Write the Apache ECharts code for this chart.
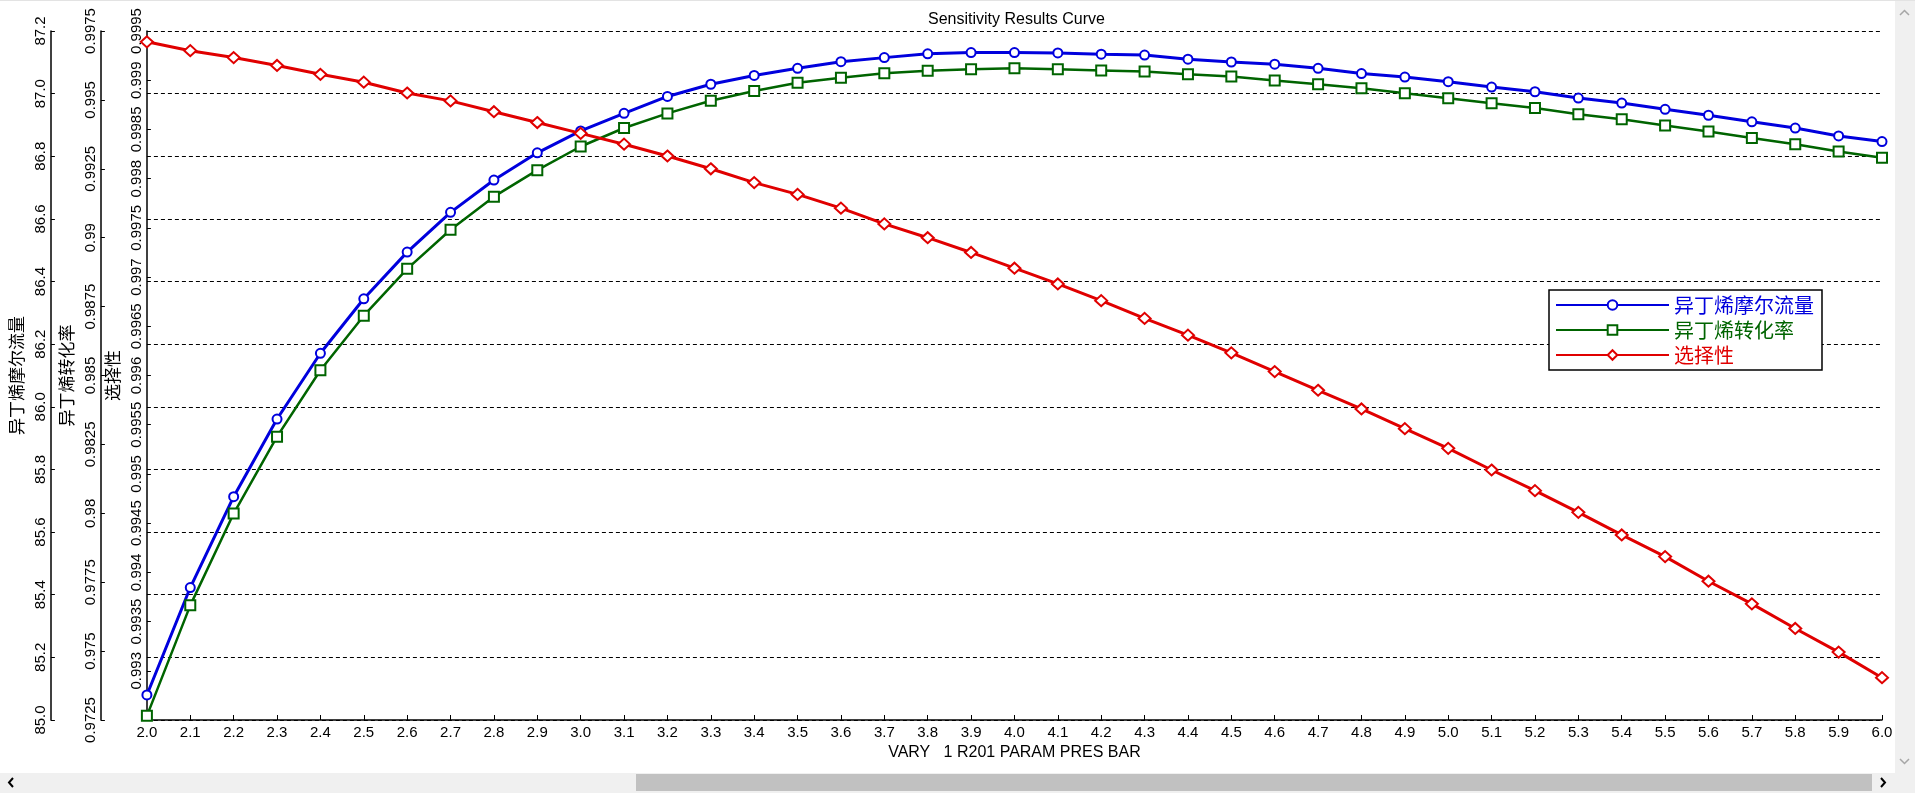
<!DOCTYPE html>
<html>
<head>
<meta charset="utf-8">
<script src="https://cdn.jsdelivr.net/npm/echarts@6/dist/echarts.min.js"></script>
<style>
html,body{margin:0;padding:0;background:#fff;}
#chart{width:1915px;height:793px;}
</style>
</head>
<body>
<div id="chart"></div>
<script>
// ---- data ----
const pressures = ['2.0','2.1','2.2','2.3','2.4','2.5','2.6','2.7','2.8','2.9',
  '3.0','3.1','3.2','3.3','3.4','3.5','3.6','3.7','3.8','3.9',
  '4.0','4.1','4.2','4.3','4.4','4.5','4.6','4.7','4.8','4.9',
  '5.0','5.1','5.2','5.3','5.4','5.5','5.6','5.7','5.8','5.9','6.0'];

const molarFlow = [85.080, 85.423, 85.713, 85.961, 86.171, 86.345, 86.494, 86.621, 86.724, 86.811,
  86.881, 86.937, 86.991, 87.030, 87.058, 87.081, 87.102, 87.115, 87.127, 87.131,
  87.131, 87.130, 87.126, 87.123, 87.110, 87.101, 87.094, 87.081, 87.064, 87.053,
  87.038, 87.021, 87.006, 86.986, 86.970, 86.950, 86.931, 86.910, 86.890, 86.865, 86.847];

const conversion = [0.97265, 0.97666, 0.97999, 0.98278, 0.98519, 0.98717, 0.98887, 0.99029, 0.99149, 0.99245,
  0.99331, 0.99398, 0.99451, 0.99497, 0.99532, 0.99562, 0.99580, 0.99597, 0.99606, 0.99611,
  0.99615, 0.99611, 0.99607, 0.99603, 0.99593, 0.99585, 0.99570, 0.99557, 0.99542, 0.99524,
  0.99506, 0.99488, 0.99471, 0.99448, 0.99430, 0.99407, 0.99385, 0.99362, 0.99339, 0.99313, 0.99290];

const selectivity = [0.99939, 0.99930, 0.99923, 0.99915, 0.99906, 0.99898, 0.99887, 0.99879, 0.99868, 0.99857,
  0.99846, 0.99835, 0.99823, 0.99810, 0.99796, 0.99784, 0.99770, 0.99754, 0.99740, 0.99725,
  0.99709, 0.99693, 0.99676, 0.99658, 0.99641, 0.99623, 0.99604, 0.99585, 0.99566, 0.99546,
  0.99526, 0.99504, 0.99483, 0.99461, 0.99438, 0.99416, 0.99391, 0.99368, 0.99343, 0.99319, 0.99293];

// tick labels (bottom to top)
const flowTicks = ['85.0','85.2','85.4','85.6','85.8','86.0','86.2','86.4','86.6','86.8','87.0','87.2'];
const convTicks = ['0.9725','0.975','0.9775','0.98','0.9825','0.985','0.9875','0.99','0.9925','0.995','0.9975'];
const selTicks = ['','0.993','0.9935','0.994','0.9945','0.995','0.9955','0.996','0.9965','0.997','0.9975','0.998','0.9985','0.999','0.9995'];

const names = ['异丁烯摩尔流量','异丁烯转化率','选择性'];
const colors = ['#0000dd','#006400','#e00000'];

// ---- chart ----
const chart = echarts.init(document.getElementById('chart'), null, {renderer:'canvas'});
const LAT = "'Liberation Sans', Arial, sans-serif";
const CJK = "'Noto Sans CJK SC', sans-serif";

function tickFmt(arr, min, step){
  return function(v){
    const i = Math.round((v - min)/step);
    return arr[i] !== undefined ? arr[i] : '';
  };
}

function yAxisDef(name, min, max, step, arr, offset, gap, showSplit, nameSize){
  return {
    type:'value', position:'left', offset:offset,
    min:min, max:max, interval:step,
    name:name, nameLocation:'middle', nameRotate:90, nameGap:gap,
    nameTextStyle:{color:'#000', fontSize:nameSize, fontFamily:CJK},
    axisLine:{show:true, lineStyle:{color:'#000', width:1.5}},
    axisTick:{show:true, inside:true, length:4, lineStyle:{color:'#000', width:1}},
    axisLabel:{show:true, rotate:90, margin:3, color:'#000', fontSize:15, fontFamily:LAT,
      formatter: tickFmt(arr, min, step)},
    splitLine:{show:showSplit, lineStyle:{color:'#000', width:1, type:[4,3]}}
  };
}

const option = {
  backgroundColor:'#fff',
  animation:false,
  title:{
    text:'Sensitivity Results Curve', left:923, top:7,
    textStyle:{color:'#000', fontSize:16, fontWeight:'normal', fontFamily:LAT}
  },
  grid:{left:146, right:33, top:31, bottom:73, containLabel:false},
  legend:{
    orient:'vertical', left:1549, top:290,
    padding:[5,8,5,6], itemGap:5, itemWidth:113, itemHeight:12,
    borderColor:'#000', borderWidth:1.5, backgroundColor:'#fff',
    textStyle:{fontSize:20, fontFamily:CJK},
    data: names.map((n,i)=>({name:n, textStyle:{color:colors[i]}}))
  },
  xAxis:{
    type:'category', data:pressures, boundaryGap:false,
    name:'VARY   1 R201 PARAM PRES BAR', nameLocation:'middle', nameGap:18,
    nameTextStyle:{color:'#000', fontSize:16, fontFamily:LAT},
    axisLine:{show:true, lineStyle:{color:'#000', width:1.5}},
    axisTick:{show:true, inside:true, length:5, interval:0, lineStyle:{color:'#000'}},
    axisLabel:{show:true, interval:0, margin:5, color:'#000', fontSize:15, fontFamily:LAT},
    splitLine:{show:false}
  },
  yAxis:[
    yAxisDef(names[0], 85.0, 87.2, 0.2, flowTicks, 96, 18, true, 17),
    yAxisDef(names[1], 0.9725, 0.9975, 0.0025, convTicks, 46, 22, false, 17),
    yAxisDef(names[2], 0.9925, 0.9995, 0.0005, selTicks, 0, 16, false, 17)
  ],
  series:[
    {name:names[0], type:'line', yAxisIndex:0, data:molarFlow, color:colors[0],
     symbol:'emptyCircle', symbolSize:9, showAllSymbol:true,
     lineStyle:{width:3, color:colors[0]}, itemStyle:{borderWidth:1.5, color:colors[0]}},
    {name:names[1], type:'line', yAxisIndex:1, data:conversion, color:colors[1],
     symbol:'emptyRect', symbolSize:10, showAllSymbol:true,
     lineStyle:{width:2.5, color:colors[1]}, itemStyle:{borderWidth:1.5, color:colors[1]}},
    {name:names[2], type:'line', yAxisIndex:2, data:selectivity, color:colors[2],
     symbol:'emptyDiamond', symbolSize:[12,11], showAllSymbol:true,
     lineStyle:{width:3, color:colors[2]}, itemStyle:{borderWidth:1.2, color:colors[2]}}
  ],
  graphic:[
    {type:'rect', silent:true, z:100, shape:{x:0,y:0,width:1915,height:1}, style:{fill:'#e3e3e3'}},
    {type:'rect', silent:true, z:100, shape:{x:1895,y:1,width:20,height:772}, style:{fill:'#f0f0f0'}},
    {type:'rect', silent:true, z:100, shape:{x:0,y:773,width:1915,height:20}, style:{fill:'#f0f0f0'}},
    {type:'rect', silent:true, z:101, shape:{x:636,y:774,width:1236,height:17}, style:{fill:'#c1c1c1'}},
    {type:'polyline', silent:true, z:102, shape:{points:[[13,778],[9,782.5],[13,787]]}, style:{stroke:'#000', lineWidth:2, fill:null}},
    {type:'polyline', silent:true, z:102, shape:{points:[[1881,778],[1885,782.5],[1881,787]]}, style:{stroke:'#000', lineWidth:2, fill:null}},
    {type:'polyline', silent:true, z:102, shape:{points:[[1900,15],[1904.5,10.5],[1909,15]]}, style:{stroke:'#a6a6a6', lineWidth:1.5, fill:null}},
    {type:'polyline', silent:true, z:102, shape:{points:[[1900,759],[1904.5,763.5],[1909,759]]}, style:{stroke:'#a6a6a6', lineWidth:1.5, fill:null}}
  ]
};
chart.setOption(option);
</script>
</body>
</html>
